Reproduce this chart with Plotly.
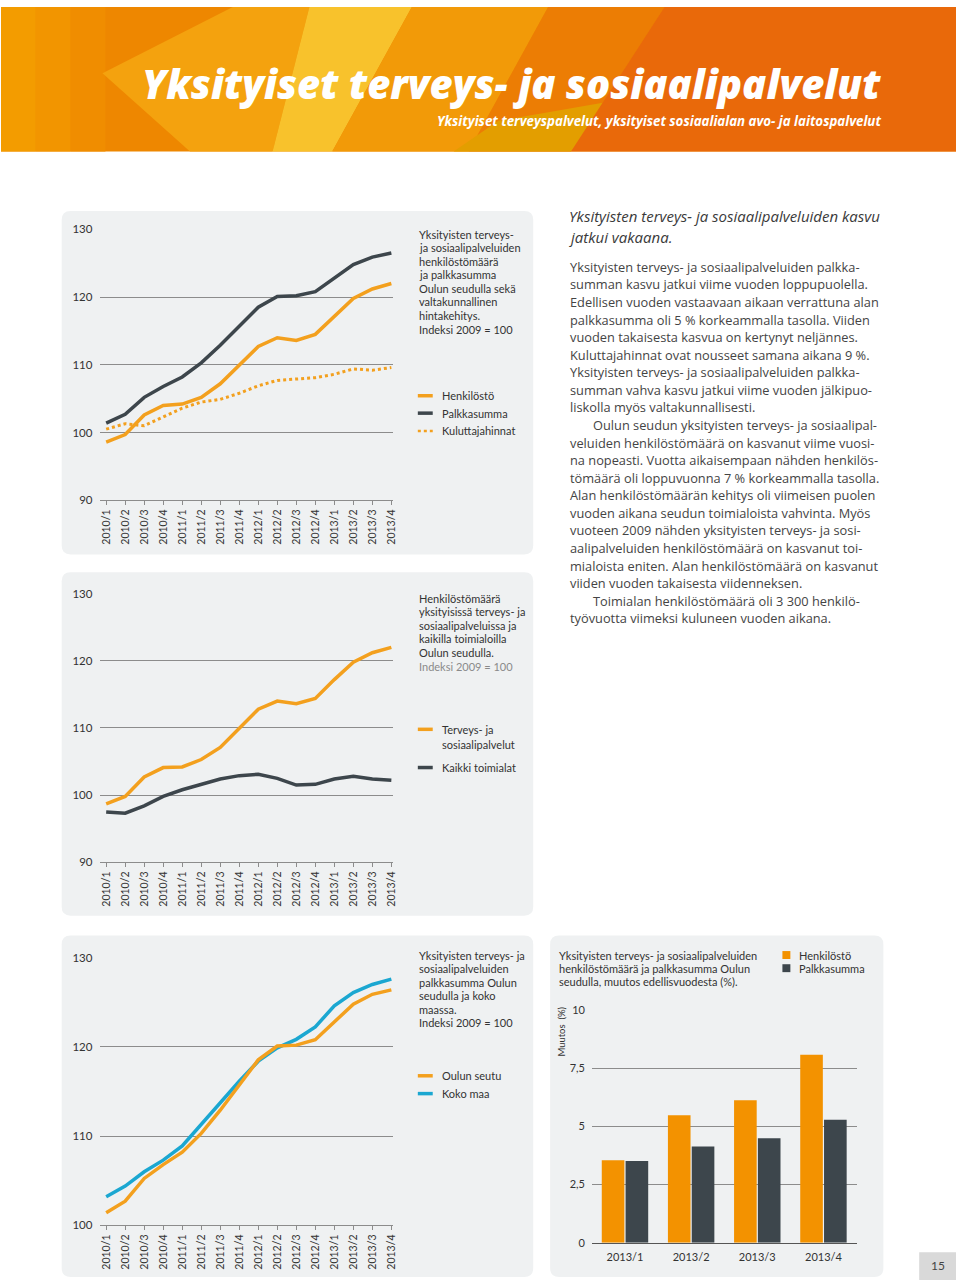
import plotly.graph_objects as go

# ---------------- data ----------------
quarters = ["2010/1", "2010/2", "2010/3", "2010/4", "2011/1", "2011/2", "2011/3", "2011/4",
            "2012/1", "2012/2", "2012/3", "2012/4", "2013/1", "2013/2", "2013/3", "2013/4"]
yticks_line = [90, 100, 110, 120, 130]
yticks_line3 = [100, 110, 120, 130]

# Chart 1
henkilosto = [98.6, 99.7, 102.6, 104.0, 104.2, 105.2, 107.2, 110.0, 112.7, 114.0, 113.6, 114.5, 117.2, 119.8, 121.2, 122.0]
palkkasumma = [101.4, 102.7, 105.2, 106.8, 108.2, 110.3, 112.9, 115.7, 118.5, 120.1, 120.2, 120.8, 122.8, 124.8, 125.9, 126.5]
kuluttajahinnat = [100.5, 101.3, 101.0, 102.3, 103.6, 104.5, 104.9, 105.8, 106.9, 107.7, 107.9, 108.1, 108.6, 109.4, 109.2, 109.6]

# Chart 2
terveys_sosiaali = [98.7, 99.8, 102.7, 104.1, 104.2, 105.3, 107.1, 110.0, 112.8, 114.0, 113.6, 114.4, 117.2, 119.8, 121.2, 122.0]
kaikki_toimialat = [97.5, 97.3, 98.4, 99.8, 100.8, 101.6, 102.4, 102.9, 103.1, 102.5, 101.5, 101.6, 102.4, 102.8, 102.4, 102.2]

# Chart 3
oulun_seutu = [101.4, 102.7, 105.25, 106.8, 108.2, 110.3, 112.9, 115.7, 118.55, 120.1, 120.2, 120.8, 122.8, 124.8, 125.9, 126.4]
koko_maa = [103.2, 104.4, 106.0, 107.3, 108.9, 111.35, 113.75, 116.15, 118.4, 119.9, 120.85, 122.25, 124.6, 126.1, 127.0, 127.6]

# Bar chart
bar_quarters = ["2013/1", "2013/2", "2013/3", "2013/4"]
bar_henkilosto = [3.55, 5.49, 6.14, 8.09]
bar_palkkasumma = [3.52, 4.14, 4.50, 5.29]
bar_ticks = [0, 2.5, 5, 7.5, 10]
bar_ticktext = ["0", "2,5", "5", "7,5", "10"]

# ---------------- styling ----------------
W, H = 960, 1286
ORANGE = "#F3A01E"
DARK = "#3D464C"
BLUE = "#1BA7D1"
BAR_OR = "#F39200"
GRID = "#8C8C8C"
PANEL = "#EFF1F2"
TXT = "#333333"
FONT = "Lato"
BODY_FONT = "Open Sans"


def X(px):
    return px / W


def Y(py):
    return 1 - py / H


def rrect(x0, y0, x1, y1, r):
    p = [f"M {X(x0 + r)} {Y(y0)}", f"L {X(x1 - r)} {Y(y0)}", f"Q {X(x1)} {Y(y0)} {X(x1)} {Y(y0 + r)}",
         f"L {X(x1)} {Y(y1 - r)}", f"Q {X(x1)} {Y(y1)} {X(x1 - r)} {Y(y1)}",
         f"L {X(x0 + r)} {Y(y1)}", f"Q {X(x0)} {Y(y1)} {X(x0)} {Y(y1 - r)}",
         f"L {X(x0)} {Y(y0 + r)}", f"Q {X(x0)} {Y(y0)} {X(x0 + r)} {Y(y0)}", "Z"]
    return " ".join(p)


def poly(pts):
    return "M " + " L ".join(f"{X(a)} {Y(b)}" for a, b in pts) + " Z"


shapes = []
annotations = []

# ---- header ----
HB = 146
shapes.append(dict(type="rect", xref="paper", yref="paper", x0=0, x1=1, y0=Y(HB), y1=1,
                   fillcolor="#EE8700", line_width=0, layer="below"))
for x0, x1, c in [(0, 35, "#F39C00"), (35, 70, "#F29500"), (70, 105, "#F08D00")]:
    shapes.append(dict(type="rect", xref="paper", yref="paper", x0=X(x0), x1=X(x1), y0=Y(HB), y1=1,
                       fillcolor=c, line_width=0, layer="below"))
header_polys = [
    ([(102, 67), (233, 0), (310, 0), (273, HB), (190, HB)], "#F4A20E"),
    ([(310, 0), (413, 0), (333, HB), (273, HB)], "#F8C22C"),
    ([(413, 0), (550, 0), (470, HB), (333, HB)], "#F29A08"),
    ([(550, 0), (667, 0), (573, HB), (470, HB)], "#EC7D04"),
    ([(455, HB), (500, 115), (615, 95), (573, HB)], "#E39E00"),
    ([(667, 0), (960, 0), (960, HB), (573, HB)], "#E9690A"),
]
for pts, c in header_polys:
    shapes.append(dict(type="path", xref="paper", yref="paper", path=poly(pts), fillcolor=c,
                       line_width=0, layer="below"))

annotations.append(dict(text="Yksityiset terveys- ja sosiaalipalvelut", xref="paper", yref="paper",
                        x=X(887), y=Y(77.5), xanchor="right", yanchor="middle", showarrow=False,
                        font=dict(family=BODY_FONT, size=40, color="white", weight=800, style="italic")))
annotations.append(dict(text="Yksityiset terveyspalvelut, yksityiset sosiaalialan avo- ja laitospalvelut",
                        xref="paper", yref="paper", x=X(887), y=Y(115), xanchor="right", yanchor="middle",
                        showarrow=False,
                        font=dict(family=BODY_FONT, size=13.3, color="white", weight="bold", style="italic")))

# ---- panels ----
for x0, y0, x1, y1 in [(61, 206, 535, 553), (61, 571, 535, 918), (61, 938, 535, 1283), (552, 938, 887, 1283)]:
    shapes.append(dict(type="path", xref="paper", yref="paper", path=rrect(x0, y0, x1, y1, 9),
                       fillcolor=PANEL, line_width=0, layer="below"))

# page number box
shapes.append(dict(type="rect", xref="paper", yref="paper", x0=X(923), x1=1, y0=0, y1=Y(1258),
                   fillcolor="#D9D9D9", line_width=0, layer="below"))
annotations.append(dict(text="15", xref="paper", yref="paper", x=X(942), y=Y(1271), showarrow=False,
                        xanchor="center", yanchor="middle", font=dict(family=FONT, size=12, color="#444")))

fig = go.Figure()

xcat = list(range(len(quarters)))


def line_axes(n, ytop, ybot, yr, ytv):
    xa = dict(domain=[X(100), X(394.3)], range=[-0.3, 15.1], tickvals=xcat, ticktext=quarters,
              tickangle=-90, showgrid=False, zeroline=False, showline=True, linecolor=GRID, linewidth=1,
              ticks="outside", ticklen=4, tickcolor=GRID, tickwidth=1, anchor=f"y{n}" if n > 1 else "y",
              tickfont=dict(family=FONT, size=10.5, color=TXT), fixedrange=True)
    ya = dict(domain=[Y(ybot), Y(ytop)], range=yr, tickvals=ytv, ticktext=[str(v) for v in ytv],
              showgrid=True, gridcolor=GRID, gridwidth=1, zeroline=False, showline=False,
              ticks="", ticklabelstandoff=7, anchor=f"x{n}" if n > 1 else "x",
              tickfont=dict(family=FONT, size=11.5, color=TXT), fixedrange=True)
    return xa, ya


xa1, ya1 = line_axes(1, 224.3, 498.3, [90, 130.05], yticks_line)
xa2, ya2 = line_axes(2, 592.3, 864.0, [90, 130.05], yticks_line)
xa3, ya3 = line_axes(3, 960.0, 1230.7, [100, 130.05], yticks_line3)

LW = 3.5
# chart 1
fig.add_trace(go.Scatter(x=xcat, y=kuluttajahinnat, mode="lines", line=dict(color=ORANGE, width=3, dash="dot"),
                         xaxis="x", yaxis="y", showlegend=False))
fig.add_trace(go.Scatter(x=xcat, y=palkkasumma, mode="lines", line=dict(color=DARK, width=LW),
                         xaxis="x", yaxis="y", showlegend=False))
fig.add_trace(go.Scatter(x=xcat, y=henkilosto, mode="lines", line=dict(color=ORANGE, width=LW),
                         xaxis="x", yaxis="y", showlegend=False))
# chart 2
fig.add_trace(go.Scatter(x=xcat, y=kaikki_toimialat, mode="lines", line=dict(color=DARK, width=LW),
                         xaxis="x2", yaxis="y2", showlegend=False))
fig.add_trace(go.Scatter(x=xcat, y=terveys_sosiaali, mode="lines", line=dict(color=ORANGE, width=LW),
                         xaxis="x2", yaxis="y2", showlegend=False))
# chart 3
fig.add_trace(go.Scatter(x=xcat, y=koko_maa, mode="lines", line=dict(color=BLUE, width=LW),
                         xaxis="x3", yaxis="y3", showlegend=False))
fig.add_trace(go.Scatter(x=xcat, y=oulun_seutu, mode="lines", line=dict(color=ORANGE, width=LW),
                         xaxis="x3", yaxis="y3", showlegend=False))
# bar chart
fig.add_trace(go.Bar(x=bar_quarters, y=bar_henkilosto, marker=dict(color=BAR_OR, line_width=0),
                     xaxis="x4", yaxis="y4", showlegend=False))
fig.add_trace(go.Bar(x=bar_quarters, y=bar_palkkasumma, marker=dict(color=DARK, line_width=0),
                     xaxis="x4", yaxis="y4", showlegend=False))

xa4 = dict(domain=[X(594), X(860)], showgrid=False, zeroline=False, showline=True, linecolor="#555",
           linewidth=1.2, ticks="", anchor="y4", tickfont=dict(family=FONT, size=11, color=TXT),
           ticklabelstandoff=4, fixedrange=True)
ya4 = dict(domain=[Y(1248.3), Y(1013.3)], range=[0, 10.02], tickvals=bar_ticks, ticktext=bar_ticktext,
           showgrid=True, gridcolor=GRID, gridwidth=1, zeroline=False, ticks="", anchor="x4",
           ticklabelstandoff=6, tickfont=dict(family=FONT, size=11, color=TXT), fixedrange=True)


# ---- chart texts & legends ----
def text_block(lines, x, y0, step, size=11, colors=None):
    for i, t in enumerate(lines):
        c = colors[i] if colors else TXT
        annotations.append(dict(text=t, xref="paper", yref="paper", x=X(x), y=Y(y0 + i * step),
                                xanchor="left", yanchor="middle", showarrow=False,
                                font=dict(family=FONT, size=size, color=c)))


def legend_line(x, y, color, dash="solid", w=3.5):
    shapes.append(dict(type="line", xref="paper", yref="paper", x0=X(x), x1=X(x + 15), y0=Y(y), y1=Y(y),
                       line=dict(color=color, width=w, dash=dash)))


text_block(["Yksityisten terveys-", "ja sosiaalipalveluiden", "henkilöstömäärä", "ja palkkasumma",
            "Oulun seudulla sekä", "valtakunnallinen", "hintakehitys.", "Indeksi 2009 = 100"],
           418, 229.5, 13.7)
legend_line(419, 392.7, ORANGE)
legend_line(419, 410.3, DARK)
legend_line(419, 428.3, ORANGE, dash="dot", w=2.5)
text_block(["Henkilöstö"], 441.5, 392.7, 0)
text_block(["Palkkasumma"], 441.5, 410.3, 0)
text_block(["Kuluttajahinnat"], 441.5, 428.3, 0)

text_block(["Henkilöstömäärä", "yksityisissä terveys- ja", "sosiaalipalveluissa ja", "kaikilla toimialoilla",
            "Oulun seudulla.", "Indeksi 2009 = 100"], 418, 597.3, 13.7,
           colors=[TXT] * 5 + ["#8A8A8A"])
legend_line(419, 729.7, ORANGE)
legend_line(419, 768.3, DARK)
text_block(["Terveys- ja", "sosiaalipalvelut"], 441.5, 729.7, 15.3)
text_block(["Kaikki toimialat"], 441.5, 768.3, 0)

text_block(["Yksityisten terveys- ja", "sosiaalipalveluiden", "palkkasumma Oulun", "seudulla ja koko",
            "maassa.", "Indeksi 2009 = 100"], 418, 957.7, 13.7)
legend_line(419, 1079.7, ORANGE)
legend_line(419, 1097.7, BLUE)
text_block(["Oulun seutu"], 441.5, 1079.7, 0)
text_block(["Koko maa"], 441.5, 1097.7, 0)

text_block(["Yksityisten terveys- ja sosiaalipalveluiden", "henkilöstömäärä ja palkkasumma Oulun",
            "seudulla, muutos edellisvuodesta (%)."], 559, 957.7, 13.5)
shapes.append(dict(type="rect", xref="paper", yref="paper", x0=X(785.5), x1=X(793.5), y0=Y(961.7), y1=Y(953.7),
                   fillcolor=BAR_OR, line_width=0))
shapes.append(dict(type="rect", xref="paper", yref="paper", x0=X(785.5), x1=X(793.5), y0=Y(975), y1=Y(967),
                   fillcolor=DARK, line_width=0))
text_block(["Henkilöstö"], 800, 957.7, 0)
text_block(["Palkkasumma"], 800, 971, 0)
annotations.append(dict(text="Muutos  (%)", xref="paper", yref="paper", x=X(563), y=Y(1035), textangle=-90,
                        showarrow=False, xanchor="center", yanchor="middle",
                        font=dict(family=FONT, size=9.5, color=TXT)))

# ---- right text column ----
heading = ["Yksityisten terveys- ja sosiaalipalveluiden kasvu", "jatkui vakaana."]
for i, t in enumerate(heading):
    annotations.append(dict(text=t, xref="paper", yref="paper", x=X(569), y=Y(211 + i * 21), xanchor="left",
                            yanchor="middle", showarrow=False,
                            font=dict(family=BODY_FONT, size=15, color="#3A3A3A", style="italic")))

body = [
    (0, "Yksityisten terveys- ja sosiaalipalveluiden palkka-"),
    (0, "summan kasvu jatkui viime vuoden loppupuolella."),
    (0, "Edellisen vuoden vastaavaan aikaan verrattuna alan"),
    (0, "palkkasumma oli 5 % korkeammalla tasolla. Viiden"),
    (0, "vuoden takaisesta kasvua on kertynyt neljännes."),
    (0, "Kuluttajahinnat ovat nousseet samana aikana 9 %."),
    (0, "Yksityisten terveys- ja sosiaalipalveluiden palkka-"),
    (0, "summan vahva kasvu jatkui viime vuoden jälkipuo-"),
    (0, "liskolla myös valtakunnallisesti."),
    (1, "Oulun seudun yksityisten terveys- ja sosiaalipal-"),
    (0, "veluiden henkilöstömäärä on kasvanut viime vuosi-"),
    (0, "na nopeasti. Vuotta aikaisempaan nähden henkilös-"),
    (0, "tömäärä oli loppuvuonna 7 % korkeammalla tasolla."),
    (0, "Alan henkilöstömäärän kehitys oli viimeisen puolen"),
    (0, "vuoden aikana seudun toimialoista vahvinta. Myös"),
    (0, "vuoteen 2009 nähden yksityisten terveys- ja sosi-"),
    (0, "aalipalveluiden henkilöstömäärä on kasvanut toi-"),
    (0, "mialoista eniten. Alan henkilöstömäärä on kasvanut"),
    (0, "viiden vuoden takaisesta viidenneksen."),
    (1, "Toimialan henkilöstömäärä oli 3 300 henkilö-"),
    (0, "työvuotta viimeksi kuluneen vuoden aikana."),
]
for i, (ind, t) in enumerate(body):
    annotations.append(dict(text=t, xref="paper", yref="paper", x=X(570 + 23 * ind), y=Y(262.5 + i * 17.75),
                            xanchor="left", yanchor="middle", showarrow=False,
                            font=dict(family=BODY_FONT, size=12.8, color="#444444")))

fig.update_layout(
    width=W, height=H, margin=dict(l=0, r=0, t=0, b=0),
    paper_bgcolor="white", plot_bgcolor="rgba(0,0,0,0)",
    xaxis=xa1, yaxis=ya1, xaxis2=xa2, yaxis2=ya2, xaxis3=xa3, yaxis3=ya3, xaxis4=xa4, yaxis4=ya4,
    barmode="group", bargap=0.28, bargroupgap=0.05,
    shapes=shapes, annotations=annotations, showlegend=False,
    font=dict(family=FONT, color=TXT),
)

post = ("document.documentElement.style.margin='0';document.body.style.margin='0';"
        "document.documentElement.style.overflow='hidden';document.body.style.overflow='hidden';"
        "var d=document.getElementById('{plot_id}');d.style.position='fixed';d.style.top='0px';d.style.left='0px';")
fig.write_html("out.html", config={"displayModeBar": False}, post_script=post)
